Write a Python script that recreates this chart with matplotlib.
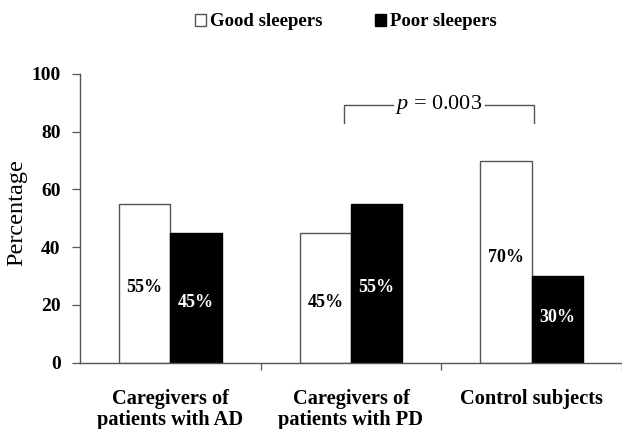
import matplotlib.pyplot as plt
import numpy as np

categories = ["Caregivers of\npatients with AD", "Caregivers of\npatients with PD", "Control subjects"]
good_sleepers = [55, 45, 70]
poor_sleepers = [45, 55, 30]
series_names = ["Good sleepers", "Poor sleepers"]
p_text = "$p$ = 0.003"

# where the % labels sit inside each bar (reference places them by hand)
label_y_good = [26, 21, 36.5]
label_y_poor = [21, 26, 15.5]

SERIF = ["Liberation Serif", "DejaVu Serif"]
EDGE = "#555555"

plt.rcParams["font.family"] = SERIF
plt.rcParams["mathtext.fontset"] = "custom"
plt.rcParams["mathtext.it"] = "Liberation Serif:italic"
plt.rcParams["mathtext.rm"] = "Liberation Serif"

fig = plt.figure(figsize=(6.22, 4.29), dpi=100)
ax = fig.add_axes([80 / 622, 1 - 362.7 / 429, 542 / 622, (362.7 - 74) / 429])

x = np.arange(len(categories))
w = 0.284
b1 = ax.bar(x - w / 2, good_sleepers, w, color="white", edgecolor=EDGE, linewidth=1.0,
            label=series_names[0], zorder=2)
b2 = ax.bar(x + w / 2, poor_sleepers, w, color="black", edgecolor="black", linewidth=1.0,
            label=series_names[1], zorder=2)

for i in range(len(categories)):
    ax.text(x[i] - w / 2, label_y_good[i], f"{good_sleepers[i]}%", ha="center", va="center",
            fontsize=13, fontweight="bold", color="black", zorder=3)
    ax.text(x[i] + w / 2, label_y_poor[i], f"{poor_sleepers[i]}%", ha="center", va="center",
            fontsize=13, fontweight="bold", color="white", zorder=3)

ax.set_xlim(-0.5, -0.5 + 542 / 182)
ax.set_ylim(0, 100)

# y axis
ax.set_yticks([0, 20, 40, 60, 80, 100])
ax.tick_params(axis="y", direction="out", length=6, width=0.9, color=EDGE,
               labelsize=14, pad=8)
for t in ax.get_yticklabels():
    t.set_fontweight("bold")

# x axis: separators as major ticks, category names as minor ticks
ax.set_xticks([0.5, 1.5, 2.5])
ax.set_xticklabels([])
ax.tick_params(axis="x", which="major", direction="out", length=5, width=0.9, color=EDGE)
ax.set_xticks(x, minor=True)
ax.set_xticklabels(categories, minor=True, fontsize=14.7, fontweight="bold", linespacing=1.05)
ax.tick_params(axis="x", which="minor", length=0, pad=19)

for side in ["top", "right"]:
    ax.spines[side].set_visible(False)
for side in ["left", "bottom"]:
    ax.spines[side].set_color(EDGE)
    ax.spines[side].set_linewidth(1.0)

ax.set_ylabel("Percentage", fontsize=17.5)
ax.yaxis.set_label_coords(-0.097, 0.52)

# significance bracket
x_left, x_right = 0.96, 2.015
y_top, y_bot = 89.3, 83.1
x_mid = (x_left + x_right) / 2
gap = 0.255
ax.plot([x_left, x_left, x_mid - gap], [y_bot, y_top, y_top], color=EDGE, lw=1.0, clip_on=False)
ax.plot([x_mid + gap, x_right, x_right], [y_top, y_top, y_bot], color=EDGE, lw=1.0, clip_on=False)
ax.text(x_mid, y_top, p_text, ha="center", va="center", fontsize=16)

leg = fig.legend(handles=[b1, b2], labels=series_names, loc="center",
                 bbox_to_anchor=(346 / 622, 1 - 22 / 429), ncol=2, frameon=False,
                 handlelength=0.6, handleheight=0.6, handletextpad=0.2,
                 columnspacing=2.8, prop={"family": SERIF, "weight": "bold", "size": 13.5})

fig.savefig("out.png", dpi=100)
